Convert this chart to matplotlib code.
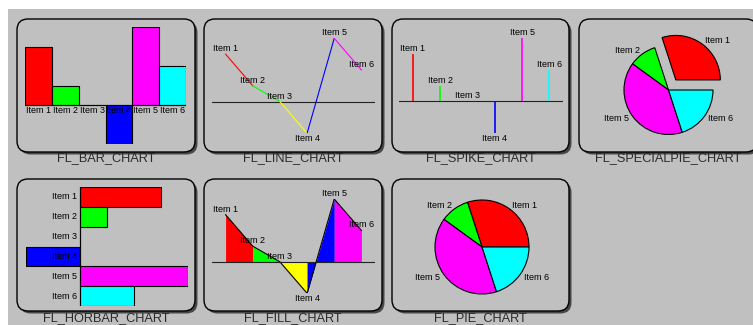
import matplotlib
matplotlib.use('Agg')
import matplotlib.pyplot as plt
from matplotlib.patches import FancyBboxPatch, Rectangle
import numpy as np

W, H, DPI = 753, 325, 100
GRAY = '#c0c0c0'

# ---- data ----
labels = ["Item 1", "Item 2", "Item 3", "Item 4", "Item 5", "Item 6"]
values = [3, 1, 0, -2, 4, 2]
colors = ["#ff0000", "#00ff00", "#ffff00", "#0000ff", "#ff00ff", "#00ffff"]
titles = ["FL_BAR_CHART", "FL_LINE_CHART", "FL_SPIKE_CHART", "FL_SPECIALPIE_CHART",
          "FL_HORBAR_CHART", "FL_FILL_CHART", "FL_PIE_CHART"]

plt.rcParams['font.family'] = ['Liberation Sans', 'DejaVu Sans']
LFS = 6.5

fig = plt.figure(figsize=(W / DPI, H / DPI), dpi=DPI)
fig.patch.set_facecolor('white')

bg = fig.add_axes([0, 0, 1, 1])
bg.set_xlim(0, W)
bg.set_ylim(H, 0)
bg.axis('off')
bg.add_patch(Rectangle((8, 9), W - 8, H - 9, facecolor=GRAY, edgecolor='none'))

panels = [(17, 19, 195, 152), (204, 19, 382, 152), (392, 19, 569, 152), (579, 19, 757, 152),
          (17, 179, 195, 311), (204, 179, 382, 311), (392, 179, 569, 311)]
title_y = [158, 158, 158, 158, 318.5, 318.5, 318.5]
for (x0, y0, x1, y1), t, ty in zip(panels, titles, title_y):
    bg.add_patch(FancyBboxPatch((x0 + 2.5, y0 + 2.5), x1 - x0, y1 - y0,
                                boxstyle="round,pad=0,rounding_size=11",
                                fc='#474747', ec='none'))
    bg.add_patch(FancyBboxPatch((x0, y0), x1 - x0, y1 - y0,
                                boxstyle="round,pad=0,rounding_size=11",
                                fc=GRAY, ec='black', lw=1))
    bg.text((x0 + x1) / 2, ty, t, ha='center', va='center', fontsize=9.2, color='#2a2a2a')


def pax(x0, y0, x1, y1):
    ax = fig.add_axes([x0 / W, 1 - y1 / H, (x1 - x0) / W, (y1 - y0) / H])
    ax.axis('off')
    ax.patch.set_alpha(0)
    return ax


x = np.arange(len(values)) + 0.5


def point_labels(ax):
    for xi, v, lab in zip(x, values, labels):
        if v >= 0:
            ax.annotate(lab, (xi, v), xytext=(0, 1), textcoords='offset pixels',
                        ha='center', va='bottom', fontsize=LFS, zorder=6)
        else:
            ax.annotate(lab, (xi, v), xytext=(0, -1), textcoords='offset pixels',
                        ha='center', va='top', fontsize=LFS, zorder=6)


# ---- bar chart ----
ax = pax(25, 27.3, 186, 144)
ax.bar(x, values, width=1, color=colors, edgecolor='black', linewidth=0.8)
ax.axhline(0, color='black', lw=0.8)
ax.set_xlim(0, 6)
ax.set_ylim(-2, 4)
for xi, lab in zip(x, labels):
    ax.annotate(lab, (xi, 0), xytext=(0, -1), textcoords='offset pixels',
                ha='center', va='top', fontsize=LFS, zorder=6)

# ---- line chart ----
ax = pax(212, 38.3, 375, 133.3)
ax.axhline(0, color='#222222', lw=0.8)
for i in range(len(values) - 1):
    ax.plot(x[i:i + 2], values[i:i + 2], color=colors[i], lw=0.8)
ax.set_xlim(0, 6)
ax.set_ylim(-2, 4)
point_labels(ax)

# ---- spike chart ----
ax = pax(399, 37.7, 563, 133.3)
ax.axhline(0, color='#222222', lw=0.8)
ax.vlines(x, 0, values, colors=colors, lw=1.2)
ax.set_xlim(0, 6)
ax.set_ylim(-2, 4)
point_labels(ax)

# ---- fill chart ----
ax = pax(212, 199, 375, 293.3)
for i in range(len(values) - 1):
    ax.fill_between(x[i:i + 2], values[i:i + 2], 0, color=colors[i], lw=0)
ax.plot(x, values, color='black', lw=0.8)
ax.axhline(0, color='#222222', lw=0.8)
ax.set_xlim(0, 6)
ax.set_ylim(-2, 4)
point_labels(ax)

# ---- horizontal bar chart ----
ax = pax(26, 187, 188, 306)
ax.barh(x, values, height=1, color=colors, edgecolor='black', linewidth=0.8)
ax.axvline(0, color='black', lw=0.8)
ax.set_xlim(-2, 4)
ax.set_ylim(6, 0)
for yi, lab in zip(x, labels):
    ax.annotate(lab, (0, yi), xytext=(-3, 0), textcoords='offset pixels',
                ha='right', va='center', fontsize=LFS, zorder=6)

# ---- pies ----
pv = [v for v in values if v > 0]
pl = [l for l, v in zip(labels, values) if v > 0]
pc = [c for c, v in zip(colors, values) if v > 0]


def pie_axes(cx, cy, r, half, explode):
    ax = pax(cx - half, cy - half, cx + half, cy + half)
    ax.pie(pv, labels=pl, colors=pc, startangle=0, counterclock=True,
           labeldistance=1.1, explode=explode,
           wedgeprops=dict(edgecolor='black', linewidth=0.8),
           textprops=dict(fontsize=LFS))
    ax.set_xlim(-half / r, half / r)
    ax.set_ylim(-half / r, half / r)
    ax.set_aspect('equal')


pie_axes(482, 247, 47, 50, [0, 0, 0, 0])
pie_axes(668.5, 90, 44.5, 60, [0.28, 0, 0, 0])

fig.savefig('out.png', dpi=DPI, facecolor=fig.get_facecolor())
